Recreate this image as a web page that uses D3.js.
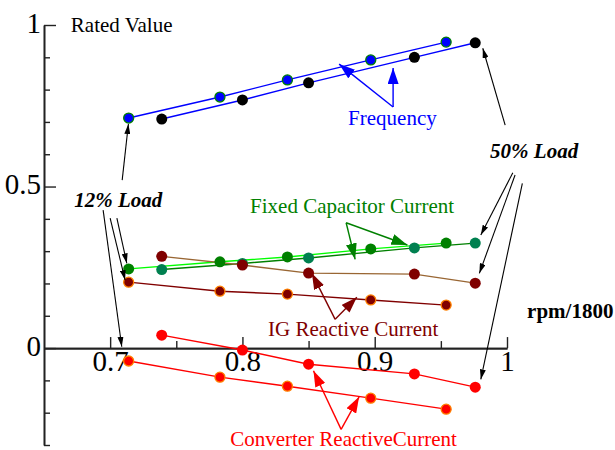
<!DOCTYPE html>
<html>
<head>
<meta charset="utf-8">
<script src="https://cdn.jsdelivr.net/npm/d3@7"></script>
<style>
  html, body { margin: 0; padding: 0; background: #fff; }
  svg { display: block; }
  text { font-family: "Liberation Serif", "Times New Roman", serif; }
</style>
</head>
<body>
<div id="chart"></div>
<script>
// ---- Data ----
const xLow  = [0.714, 0.783, 0.834, 0.897, 0.954];   // 12% load speeds (rpm/1800)
const xHigh = [0.739, 0.800, 0.850, 0.930, 0.976];   // 50% load speeds (rpm/1800)

const freqLow  = [0.712, 0.777, 0.830, 0.892, 0.947];
const freqHigh = [0.709, 0.768, 0.821, 0.900, 0.945];
const capLow   = [0.245, 0.267, 0.282, 0.307, 0.325];
const capHigh  = [0.243, 0.262, 0.279, 0.310, 0.325];
const igLow    = [0.204, 0.176, 0.167, 0.149, 0.133];
const igHigh   = [0.284, 0.257, 0.232, 0.229, 0.201];
const convLow  = [-0.040, -0.090, -0.118, -0.155, -0.189];
const convHigh = [0.040, -0.006, -0.050, -0.080, -0.121];

const xMajorTicks = [0.7, 0.8, 0.9, 1.0];
const xMajorLabels = ["0.7", "0.8", "0.9", "1"];
const xMinorTicks = [0.75, 0.85, 0.95];
const yMajorTicks = [0, 0.5, 1];
const yMajorLabels = ["0", "0.5", "1"];
const yMinorTicks = [-0.3, -0.2, -0.1, 0.1, 0.2, 0.3, 0.4, 0.6, 0.7, 0.8, 0.9];

const series = [
  { name: "freqLow",  x: xLow,  y: freqLow,  line: "#0000ff", fill: "#0000ff", ring: "#008000" },
  { name: "freqHigh", x: xHigh, y: freqHigh, line: "#0000ff", fill: "#000000", ring: null },
  { name: "capHigh",  x: xHigh, y: capHigh,  line: "#008000", fill: "#008050", ring: null },
  { name: "capLow",   x: xLow,  y: capLow,   line: "#00ff00", fill: "#008000", ring: null },
  { name: "igHigh",   x: xHigh, y: igHigh,   line: "#996633", fill: "#800000", ring: null },
  { name: "igLow",    x: xLow,  y: igLow,    line: "#800000", fill: "#800000", ring: "#ff8000" },
  { name: "convHigh", x: xHigh, y: convHigh, line: "#ff0000", fill: "#ff0000", ring: null },
  { name: "convLow",  x: xLow,  y: convLow,  line: "#ff0000", fill: "#ff0000", ring: "#ff8000" }
];

// Annotation labels (data coordinates)
const labels = [
  { text: "Rated Value", x: 0.6703, y: 0.978, color: "#000", size: 21, weight: "normal", style: "normal" },
  { text: "Frequency", x: 0.8799, y: 0.690, color: "#0000ff", size: 21, weight: "normal", style: "normal" },
  { text: "Fixed Capacitor Current", x: 0.8058, y: 0.418, color: "#008000", size: 21, weight: "normal", style: "normal" },
  { text: "IG Reactive Current", x: 0.8194, y: 0.038, color: "#800000", size: 21, weight: "normal", style: "normal" },
  { text: "Converter ReactiveCurrent", x: 0.7907, y: -0.302, color: "#ff0000", size: 21, weight: "normal", style: "normal" },
  { text: "12% Load", x: 0.6728, y: 0.4365, color: "#000", size: 21, weight: "bold", style: "italic" },
  { text: "50% Load", x: 0.9872, y: 0.588, color: "#000", size: 21, weight: "bold", style: "italic" },
  { text: "rpm/1800", x: 1.0152, y: 0.0929, color: "#000", size: 21, weight: "bold", style: "normal" }
];

// Annotation arrows (data coordinates): from [x0,y0] to tip [x1,y1]
const arrows = [
  { from: [0.9139, 0.746], to: [0.8731, 0.879], color: "#0000ff", head: "big" },
  { from: [0.9139, 0.746], to: [0.9139, 0.867], color: "#0000ff", head: "big" },
  { from: [0.8784, 0.388], to: [0.8852, 0.2746], color: "#008000", head: "big" },
  { from: [0.8784, 0.388], to: [0.9247, 0.319], color: "#008000", head: "big" },
  { from: [0.8701, 0.0889], to: [0.8525, 0.2313], color: "#800000", head: "big" },
  { from: [0.8701, 0.0889], to: [0.8865, 0.157], color: "#800000", head: "big" },
  { from: [0.8746, -0.2517], to: [0.8537, -0.0703], color: "#ff0000", head: "big" },
  { from: [0.8746, -0.2517], to: [0.8882, -0.1508], color: "#ff0000", head: "big" },
  { from: [0.7091, 0.520], to: [0.7138, 0.6935], color: "#000", head: "small" },
  { from: [0.6947, 0.4272], to: [0.7088, 0.004], color: "#000", head: "small" },
  { from: [0.7000, 0.4025], to: [0.7113, 0.2105], color: "#000", head: "small" },
  { from: [0.7051, 0.4025], to: [0.7126, 0.2622], color: "#000", head: "small" },
  { from: [0.9986, 0.690], to: [0.9817, 0.928], color: "#000", head: "small" },
  { from: [1.0044, 0.5427], to: [0.9802, 0.350], color: "#000", head: "small" },
  { from: [1.0061, 0.5356], to: [0.9791, 0.2313], color: "#000", head: "small" },
  { from: [1.0116, 0.510], to: [0.9802, -0.0969], color: "#000", head: "small" }
];

// ---- Layout ----
const W = 615, H = 450;
const x = d3.scaleLinear().domain([0.65, 1.0]).range([44, 507]);
const y = d3.scaleLinear().domain([-0.3, 1.0]).range([445, 25]);

const svg = d3.select("#chart").append("svg").attr("width", W).attr("height", H);

// Arrowhead markers
const defs = svg.append("defs");
const colors = Array.from(new Set(arrows.map(a => a.color + "|" + a.head)));
colors.forEach(key => {
  const [c, h] = key.split("|");
  const L = h === "big" ? 16 : 10;
  const Wd = h === "big" ? 11 : 6;
  defs.append("marker")
    .attr("id", "ah-" + c.replace("#", "") + "-" + h)
    .attr("markerUnits", "userSpaceOnUse")
    .attr("viewBox", `0 ${-Wd / 2} ${L} ${Wd}`)
    .attr("markerWidth", L).attr("markerHeight", Wd)
    .attr("refX", L).attr("refY", 0)
    .attr("orient", "auto")
    .append("path")
    .attr("d", `M0,${-Wd / 2}L${L},0L0,${Wd / 2}Z`)
    .attr("fill", c);
});

// ---- Axes ----
const axisColor = "#222";
const yMinor = svg.append("g").attr("transform", `translate(${x(0.65)},0)`)
  .call(d3.axisLeft(y).tickValues(yMinorTicks).tickSizeInner(-6).tickSizeOuter(0).tickFormat(""));
const yMajor = svg.append("g").attr("transform", `translate(${x(0.65)},0)`)
  .call(d3.axisLeft(y).tickValues(yMajorTicks).tickSizeInner(-12).tickSizeOuter(0).tickPadding(3)
    .tickFormat((d, i) => yMajorLabels[i]));
const xMinor = svg.append("g").attr("transform", `translate(0,${y(0)})`)
  .call(d3.axisBottom(x).tickValues(xMinorTicks).tickSizeInner(-7).tickSizeOuter(0).tickFormat(""));
const xMajor = svg.append("g").attr("transform", `translate(0,${y(0)})`)
  .call(d3.axisBottom(x).tickValues(xMajorTicks).tickSizeInner(-11).tickSizeOuter(0).tickPadding(2)
    .tickFormat((d, i) => xMajorLabels[i]));

[yMinor, yMajor, xMinor, xMajor].forEach(g => {
  g.selectAll("path.domain").attr("stroke", axisColor).attr("stroke-width", 1.6);
  g.selectAll(".tick line").attr("stroke", axisColor).attr("stroke-width", 1.4);
  g.selectAll(".tick text")
    .attr("font-family", '"Liberation Serif", "Times New Roman", serif')
    .attr("font-size", 29).attr("fill", "#000");
});
yMajor.selectAll(".tick text").attr("dy", "0.25em");

// ---- Series lines ----
const line = d3.line().x(d => x(d[0])).y(d => y(d[1]));
series.forEach(s => {
  const pts = s.x.map((xv, i) => [xv, s.y[i]]);
  svg.append("path").datum(pts)
    .attr("fill", "none").attr("stroke", s.line).attr("stroke-width", 1.4)
    .attr("d", line);
});

// ---- Series markers ----
series.forEach(s => {
  const pts = s.x.map((xv, i) => [xv, s.y[i]]);
  svg.append("g").selectAll("circle").data(pts).join("circle")
    .attr("cx", d => x(d[0])).attr("cy", d => y(d[1]))
    .attr("r", s.ring ? 5 : 5.5)
    .attr("fill", s.fill)
    .attr("stroke", s.ring || "none")
    .attr("stroke-width", s.ring ? 1.3 : 0);
});

// ---- Annotation arrows ----
svg.append("g").selectAll("line").data(arrows).join("line")
  .attr("x1", d => x(d.from[0])).attr("y1", d => y(d.from[1]))
  .attr("x2", d => x(d.to[0])).attr("y2", d => y(d.to[1]))
  .attr("stroke", d => d.color)
  .attr("stroke-width", d => d.head === "big" ? 1.4 : 1.1)
  .attr("marker-end", d => `url(#ah-${d.color.replace("#", "")}-${d.head})`);

// ---- Labels ----
svg.append("g").selectAll("text").data(labels).join("text")
  .attr("x", d => x(d.x)).attr("y", d => y(d.y))
  .attr("fill", d => d.color)
  .attr("font-size", d => d.size)
  .attr("font-weight", d => d.weight)
  .attr("font-style", d => d.style)
  .text(d => d.text);
</script>
</body>
</html>
